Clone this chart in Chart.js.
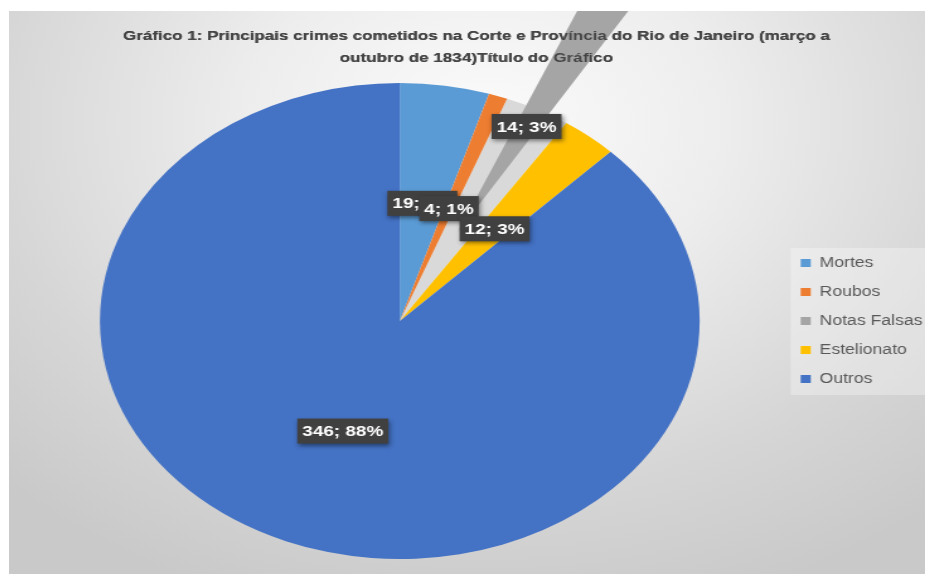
<!DOCTYPE html>
<html lang="pt">
<head>
<meta charset="utf-8">
<title>Gráfico 1</title>
<script src="https://cdn.jsdelivr.net/npm/chart.js@4.4.1/dist/chart.umd.min.js"></script>
<style>
    html, body { margin: 0; padding: 0; background: #fff; }
    #moldura {
        position: absolute; left: 9px; top: 11px;
        width: 916px; height: 563px; overflow: hidden;
        background: radial-gradient(ellipse 75% 90% at 52% 20%, #fbfbfb 0%, #ededed 35%, #d6d6d6 72%, #c9c9c9 100%);
    }
    /* a imagem original está esticada na horizontal */
    #area { width: 727px; height: 563px; transform: scaleX(1.26); transform-origin: 0 0; }
</style>
</head>
<body>
<div id="moldura"><div id="area"><canvas id="chartCrimes"></canvas></div></div>
<script>
// ===============================
// DADOS
// ===============================
const categorias = ["Mortes", "Roubos", "Notas Falsas", "Estelionato", "Outros"];
const valores = [19, 4, 14, 12, 346];
const percentuais = [5, 1, 3, 3, 88];
const cores = ["#5b9bd5", "#ed7d31", "#a5a5a5", "#ffc000", "#4472c4"];
const titulo = [
    "Gráfico 1: Principais crimes cometidos na Corte e Província do Rio de Janeiro (março a",
    "outubro de 1834)Título do Gráfico"
];

// ===============================
// SOMBRA no lugar da fatia destacada
// ===============================
const sombraFatia = {
    id: "sombraFatia",
    beforeDatasetsDraw(chart) {
        const ctx = chart.ctx;
        ctx.save();
        chart.getDatasetMeta(0).data.forEach((arc) => {
            if (!arc.options.offset) return;
            const { x, y, startAngle, endAngle, outerRadius } =
                arc.getProps(["x", "y", "startAngle", "endAngle", "outerRadius"], true);
            ctx.fillStyle = "#d9d9d9";
            ctx.beginPath();
            ctx.moveTo(x, y);
            ctx.arc(x, y, outerRadius, startAngle, endAngle);
            ctx.closePath();
            ctx.fill();
        });
        ctx.restore();
    }
};

// ===============================
// RÓTULOS — caixas escuras
// ===============================
const rotulosPizza = {
    id: "rotulosPizza",
    afterDatasetsDraw(chart) {
        const ctx = chart.ctx;
        const meta = chart.getDatasetMeta(0);

        // o título fica por cima da fatia destacada
        if (chart.titleBlock) chart.titleBlock.draw(chart.chartArea);

        ctx.save();
        ctx.font = "bold 15px 'Liberation Sans', Arial, sans-serif";
        ctx.textAlign = "center";
        ctx.textBaseline = "middle";
        meta.data.forEach((arc, i) => {
            const { x, y, startAngle, endAngle, outerRadius } =
                arc.getProps(["x", "y", "startAngle", "endAngle", "outerRadius"], true);
            const desloc = (arc.options.offset || 0) / 4;
            const meio = (startAngle + endAngle) / 2;
            const r = desloc + outerRadius / 2;
            const px = x + Math.cos(meio) * r;
            const py = y + Math.sin(meio) * r;
            const texto = valores[i] + "; " + percentuais[i] + "%";
            const w = ctx.measureText(texto).width + 8;
            const h = 25;
            ctx.shadowColor = "rgba(0,0,0,0.45)";
            ctx.shadowBlur = 4;
            ctx.shadowOffsetX = 1;
            ctx.shadowOffsetY = 2;
            ctx.fillStyle = "#404040";
            ctx.fillRect(px - w / 2, py - h / 2, w, h);
            ctx.shadowColor = "transparent";
            ctx.fillStyle = "#ffffff";
            ctx.fillText(texto, px, py + 1);
        });
        ctx.restore();
    }
};

// fundo claro atrás da legenda
const fundoLegenda = {
    id: "fundoLegenda",
    beforeDraw(chart) {
        const caixas = chart.legend && chart.legend.legendHitBoxes;
        if (!caixas || !caixas.length) return;
        const ult = caixas[caixas.length - 1];
        const topo = caixas[0].top - 8;
        const base = ult.top + ult.height + 9;
        const esq = caixas[0].left - 8;
        const ctx = chart.ctx;
        ctx.save();
        ctx.fillStyle = "rgba(255,255,255,0.3)";
        ctx.fillRect(esq, topo, chart.width - esq, base - topo);
        ctx.restore();
    }
};

// ===============================
// PIZZA
// ===============================
new Chart(document.getElementById("chartCrimes"), {
    type: "pie",
    data: {
        labels: categorias,
        datasets: [{
            data: valores,
            backgroundColor: cores,
            borderWidth: 0,
            offset: [0, 0, 400, 0, 0]
        }]
    },
    options: {
        responsive: true,
        maintainAspectRatio: false,
        animation: false,
        events: [],
        radius: 238,
        layout: { padding: { left: 7, right: -8, top: 0, bottom: 1 } },
        plugins: {
            title: {
                display: true,
                text: titulo,
                color: "#454545",
                font: { family: "'Liberation Sans', Arial, sans-serif", size: 13.5, weight: "bold", lineHeight: 22 / 13.5 },
                padding: { top: 14, bottom: 0 }
            },
            legend: {
                position: "right",
                fullSize: false,
                labels: {
                    color: "#595959",
                    font: { family: "'Liberation Sans', Arial, sans-serif", size: 14 },
                    boxWidth: 8,
                    boxHeight: 8,
                    padding: 15
                }
            },
            tooltip: { enabled: false }
        }
    },
    plugins: [fundoLegenda, sombraFatia, rotulosPizza]
});
</script>
</body>
</html>
